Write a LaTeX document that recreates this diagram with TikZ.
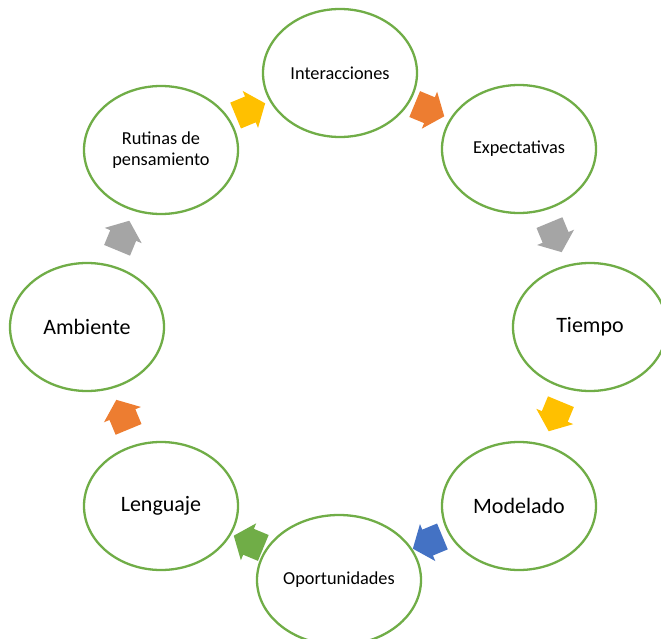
\documentclass[tikz,border=0pt]{standalone}
\usepackage{fontspec}
\setmainfont{Carlito}
\usetikzlibrary{shapes.geometric,calc}
\definecolor{cgreen}{HTML}{70AD47}
\definecolor{cgold}{HTML}{FFC000}
\definecolor{corange}{HTML}{ED7D31}
\definecolor{cgray}{HTML}{A5A5A5}
\definecolor{cblue}{HTML}{4472C4}
\tikzset{
  bubble/.style={ellipse, draw=cgreen, line width=2.3pt, fill=white,
    minimum width=154pt, minimum height=128pt, inner sep=0pt, align=center},
  smalltxt/.style={font=\fontsize{18.3}{21}\selectfont},
  bigtxt/.style={font=\fontsize{22}{25}\selectfont},
}
\newcommand{\blockarr}[2]{%
  \fill[#2, shift={($(C)+(#1:234pt)$)}, rotate=#1-90]
    (-15pt,-14pt) -- (1pt,-14pt) -- (1pt,-20pt) -- (17pt,0pt) --
    (1pt,20pt) -- (1pt,14pt) -- (-15pt,14pt) -- cycle;}
\begin{document}
\begin{tikzpicture}[x=1pt,y=1pt]
\useasboundingbox (0,0) rectangle (661,-639);
\coordinate (C) at (339,-326);
\node[bubble, smalltxt] (inter) at (340,-73) {Interacciones};
\node[bubble, smalltxt] (expec) at (519,-149) {Expectativas};
\node[bubble, bigtxt] (tiempo) at (590,-327) {Tiempo};
\node[bubble, bigtxt] (model) at (519,-506) {Modelado};
\node[bubble, smalltxt, minimum width=164pt, minimum height=130pt] (oport) at (339,-580) {Oportunidades};
\node[bubble, bigtxt] (leng) at (161,-506) {Lenguaje};
\node[bubble, bigtxt] (amb) at (87,-327) {Ambiente};
\node[bubble, smalltxt] (rut) at (161,-150) {Rutinas de\\pensamiento};
\blockarr{112.5}{cgold}
\blockarr{67.5}{corange}
\blockarr{22.5}{cgray}
\blockarr{-22.5}{cgold}
\blockarr{-67.5}{cblue}
\blockarr{-112.5}{cgreen}
\blockarr{-157.5}{corange}
\blockarr{157.5}{cgray}
\end{tikzpicture}
\end{document}
